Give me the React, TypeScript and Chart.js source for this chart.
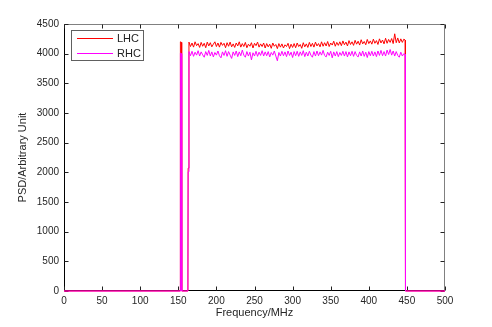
import React, { useEffect, useRef } from "react";
import { Chart, registerables } from "chart.js";

Chart.register(...registerables);

// ---- data ----
const seriesNames = ["LHC", "RHC"];
const xTicks = [0, 50, 100, 150, 200, 250, 300, 350, 400, 450, 500];
const yTicks = [0, 500, 1000, 1500, 2000, 2500, 3000, 3500, 4000, 4500];

const leftEdgeFreq = [0, 152.3, 152.6, 152.9, 154.2, 154.5, 162.6, 162.9];
const lhcLeftEdge = [0, 0, 2060, 4200, 4190, 0, 0, 2070];
const rhcLeftEdge = [0, 0, 2000, 4010, 4000, 0, 0, 2010];

const bandStart = 164;
const bandStep = 2;
const lhcBand = [
  4195, 4120, 4180, 4110, 4200, 4135, 4170, 4105, 4190, 4125,
  4175, 4100, 4195, 4130, 4185, 4115, 4160, 4200, 4120, 4180,
  4110, 4190, 4140, 4175, 4100, 4185, 4125, 4195, 4115, 4165,
  4105, 4180, 4130, 4200, 4110, 4170, 4120, 4190, 4100, 4160,
  4125, 4185, 4095, 4175, 4135, 4195, 4110, 4165, 4120, 4180,
  4095, 4170, 4115, 4160, 4090, 4180, 4125, 4155, 4085, 4170,
  4110, 4165, 4095, 4150, 4120, 4175, 4085, 4160, 4105, 4170,
  4100, 4180, 4120, 4155, 4090, 4185, 4115, 4165, 4105, 4190,
  4120, 4175, 4110, 4195, 4130, 4170, 4115, 4200, 4125, 4185,
  4130, 4205, 4120, 4180, 4145, 4210, 4125, 4190, 4140, 4200,
  4135, 4215, 4150, 4195, 4130, 4220, 4155, 4200, 4140, 4225,
  4160, 4210, 4145, 4235, 4165, 4205, 4150, 4240, 4170, 4215,
  4160, 4245, 4175, 4220, 4155, 4250, 4180, 4230, 4165, 4260,
  4175, 4240, 4190, 4255, 4170, 4335, 4185, 4265, 4180, 4250,
  4190, 4245,
];
const rhcBand = [
  4035, 3965, 4040, 3955, 4025, 3975, 4050, 3960, 4030, 3980,
  3940, 4035, 3970, 4055, 3960, 4030, 3945, 4020, 3975, 4045,
  3965, 3930, 4030, 3970, 4050, 3955, 4035, 3975, 3920, 4030,
  3970, 4045, 3950, 4030, 3965, 4060, 3975, 3940, 4035, 3960,
  4025, 3895, 4015, 3960, 4040, 3955, 4025, 3970, 4050, 3960,
  4030, 3965, 4035, 3945, 4020, 3975, 4045, 3960, 3880, 4020,
  3960, 4040, 3965, 4030, 3950, 4045, 3970, 4025, 3935, 4035,
  3965, 4040, 3955, 4030, 3970, 4050, 3950, 4025, 3960, 4040,
  3975, 3940, 4035, 3960, 4045, 3965, 4030, 3975, 4055, 3970,
  3945, 4025, 3970, 4040, 3930, 4030, 3960, 4035, 3950, 4020,
  3970, 4040, 3960, 4035, 3945, 4030, 3965, 4040, 3955, 4035,
  3970, 3945, 4030, 3960, 4045, 3955, 4025, 3935, 4035, 3965,
  4040, 3960, 4030, 3950, 4045, 3970, 4055, 3965, 4035, 3960,
  4060, 3985, 4070, 3975, 4045, 3960, 4035, 3970, 3940, 4025,
  3960, 4000,
];

const rightEdgeFreq = [447.6, 448.0, 448.3, 500];
const lhcRightEdge = [4230, 2060, 0, 0];
const rhcRightEdge = [3990, 2000, 0, 0];

const FONT = "'Liberation Sans', Arial, sans-serif";

function buildPoints(left: number[], band: number[], right: number[]) {
  const pts: { x: number; y: number }[] = [];
  leftEdgeFreq.forEach((f, i) => pts.push({ x: f, y: left[i] }));
  band.forEach((v, i) => pts.push({ x: bandStart + i * bandStep, y: v }));
  rightEdgeFreq.forEach((f, i) => pts.push({ x: f, y: right[i] }));
  return pts;
}

const frameAndTicks = {
  id: "frameAndTicks",
  beforeDatasetsDraw(chart: any) {
    const { ctx, chartArea: a, scales } = chart;
    const L = Math.round(a.left) + 0.5;
    const R = Math.round(a.right) - 0.5;
    const T = Math.round(a.top) + 0.5;
    const B = Math.round(a.bottom) - 0.5;
    const len = 4;
    ctx.save();
    ctx.lineWidth = 1;
    ctx.strokeStyle = "#808080";
    ctx.beginPath();
    ctx.moveTo(L, T);
    ctx.lineTo(R, T);
    ctx.lineTo(R, B);
    ctx.stroke();
    ctx.strokeStyle = "#000000";
    ctx.beginPath();
    ctx.moveTo(L, T);
    ctx.lineTo(L, B);
    ctx.lineTo(R, B);
    ctx.stroke();
    ctx.strokeStyle = "#222";
    xTicks.forEach((t) => {
      const px = Math.round(scales.x.getPixelForValue(t)) + 0.5;
      ctx.beginPath();
      ctx.moveTo(px, B);
      ctx.lineTo(px, B - len);
      ctx.moveTo(px, T);
      ctx.lineTo(px, T + len);
      ctx.stroke();
    });
    yTicks.forEach((t) => {
      const py = Math.round(scales.y.getPixelForValue(t)) + 0.5;
      ctx.beginPath();
      ctx.moveTo(L, py);
      ctx.lineTo(L + len, py);
      ctx.moveTo(R, py);
      ctx.lineTo(R - len, py);
      ctx.stroke();
    });
    ctx.restore();
  },
};

const boxLegend = {
  id: "boxLegend",
  afterDraw(chart: any) {
    const { ctx } = chart;
    const x0 = 71.5, y0 = 30.5, w = 72, h = 30;
    ctx.save();
    ctx.fillStyle = "#ffffff";
    ctx.fillRect(x0, y0, w, h);
    ctx.strokeStyle = "#606060";
    ctx.lineWidth = 1;
    ctx.strokeRect(x0, y0, w, h);
    ctx.font = `11px ${FONT}`;
    ctx.textBaseline = "middle";
    ctx.textAlign = "left";
    chart.data.datasets.forEach((ds: any, i: number) => {
      const y = 38.5 + i * 15;
      ctx.strokeStyle = ds.borderColor;
      ctx.beginPath();
      ctx.moveTo(77, y);
      ctx.lineTo(113, y);
      ctx.stroke();
      ctx.fillStyle = "#222";
      ctx.fillText(ds.label, 117, y + 0.5);
    });
    ctx.restore();
  },
};

export default function App() {
  const ref = useRef<HTMLCanvasElement | null>(null);

  useEffect(() => {
    if (!ref.current) return;
    const chart = new Chart(ref.current, {
      type: "line",
      data: {
        datasets: [
          {
            label: seriesNames[0],
            data: buildPoints(lhcLeftEdge, lhcBand, lhcRightEdge),
            borderColor: "#ff0000",
            borderWidth: 1,
            pointRadius: 0,
            tension: 0,
            order: 1,
            clip: false as any,
          },
          {
            label: seriesNames[1],
            data: buildPoints(rhcLeftEdge, rhcBand, rhcRightEdge),
            borderColor: "#ff00ff",
            borderWidth: 1,
            pointRadius: 0,
            tension: 0,
            order: 0,
            clip: false as any,
          },
        ],
      },
      options: {
        animation: false,
        responsive: false,
        devicePixelRatio: 1,
        layout: { padding: { top: 24, right: 47, left: 0, bottom: 0 } },
        plugins: { legend: { display: false }, tooltip: { enabled: false } },
        scales: {
          x: {
            type: "linear",
            min: 0,
            max: 500,
            afterBuildTicks: (s: any) => {
              s.ticks = xTicks.map((v) => ({ value: v }));
            },
            afterFit: (s: any) => {
              s.height = 36;
            },
            grid: { display: false, drawTicks: false },
            border: { display: false },
            ticks: {
              padding: 4,
              maxRotation: 0,
              autoSkip: false,
              color: "#262626",
              font: { family: FONT, size: 10 },
              callback: (v: any) => String(v),
            },
            title: {
              display: true,
              text: "Frequency/MHz",
              color: "#262626",
              font: { family: FONT, size: 11 },
              padding: { top: 0, bottom: 7 },
            },
          },
          y: {
            type: "linear",
            min: 0,
            max: 4500,
            afterBuildTicks: (s: any) => {
              s.ticks = yTicks.map((v) => ({ value: v }));
            },
            afterFit: (s: any) => {
              s.width = 64;
            },
            grid: { display: false, drawTicks: false },
            border: { display: false },
            ticks: {
              padding: 5,
              autoSkip: false,
              color: "#262626",
              font: { family: FONT, size: 10 },
              callback: (v: any) => String(v),
            },
            title: {
              display: true,
              text: "PSD/Arbitrary Unit",
              color: "#262626",
              font: { family: FONT, size: 11 },
              padding: { top: 16, bottom: 0 },
            },
          },
        },
      },
      plugins: [frameAndTicks, boxLegend],
    });
    return () => chart.destroy();
  }, []);

  return (
    <div
      style={{
        position: "fixed",
        left: 0,
        top: 0,
        width: 492,
        height: 327,
        background: "#ffffff",
      }}
    >
      <canvas ref={ref} width={492} height={327} style={{ display: "block" }} />
    </div>
  );
}
